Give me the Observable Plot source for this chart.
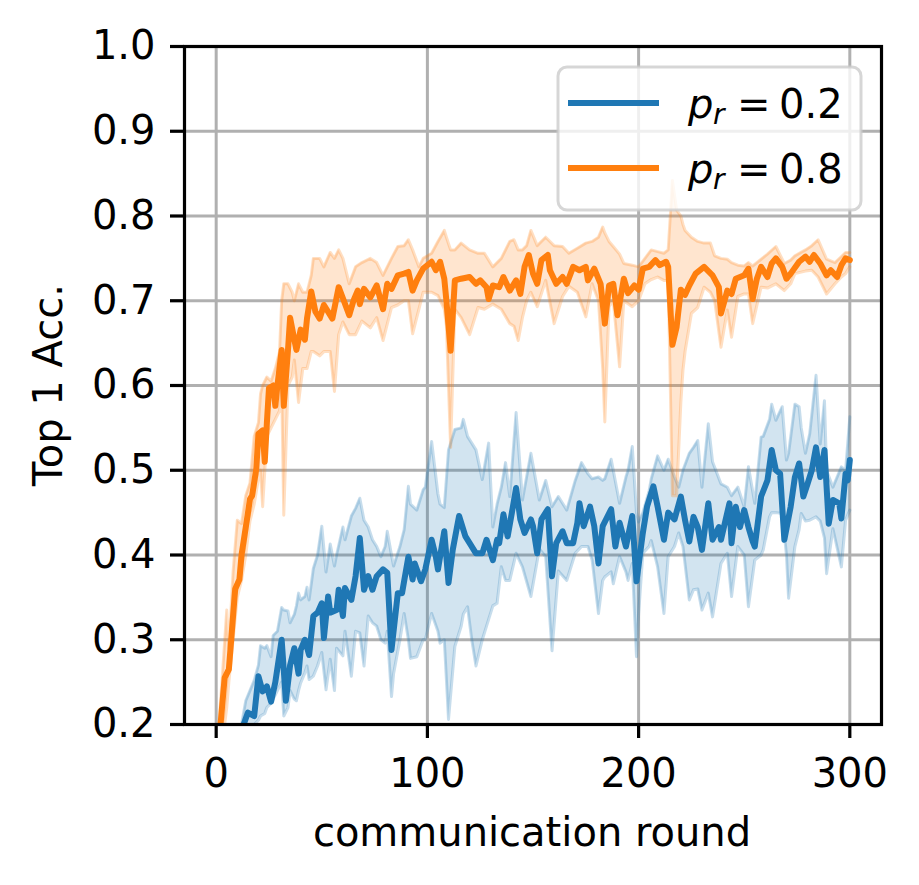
<!DOCTYPE html>
<html>
<head>
<meta charset="utf-8">
<script src="https://cdn.jsdelivr.net/npm/d3@7"></script>
<script src="https://cdn.jsdelivr.net/npm/@observablehq/plot@0.6"></script>
<style>
  body { margin: 0; background: #fff; }
  #chart { width: 919px; height: 885px; }
</style>
</head>
<body>
<div id="chart"></div>
<script>
// ---------- data ----------
const xTicks = [0, 100, 200, 300];
const yTicks = [0.2, 0.3, 0.4, 0.5, 0.6, 0.7, 0.8, 0.9, 1.0];
const seriesNames = ["0.2", "0.8"];
const seriesColors = ["#1f77b4", "#ff7f0e"];
const xLabel = "communication round";
const yLabel = "Top 1 Acc.";

// p_r = 0.8 (orange) mean curve
const orangeRounds = [1,4,6,9,11,12,15,16,17,19,20,22,23,24,25,27,28,29,31,32,34,35,37,38,40,42,43,45,47,49,51,55,58,60,63,65,67,68,70,73,76,79,81,83,86,89,91,93,95,98,102,104,106,108,109,111,113,116,120,123,125,128,129,131,134,136,139,142,144,146,148,150,152,154,157,158,161,164,166,169,172,175,176,179,182,184,186,188,190,193,195,198,200,202,205,208,210,213,214,216,218,220,222,224,227,231,235,238,239,242,244,246,250,252,254,256,258,261,263,265,268,270,272,276,279,281,283,286,289,291,294,296,298,300];
const orangeMean = [0.17,0.255,0.265,0.36,0.371,0.40,0.449,0.466,0.47,0.502,0.543,0.547,0.51,0.556,0.597,0.60,0.576,0.60,0.642,0.576,0.642,0.68,0.654,0.642,0.666,0.654,0.679,0.711,0.687,0.679,0.695,0.679,0.716,0.703,0.683,0.70,0.712,0.696,0.714,0.704,0.718,0.69,0.72,0.714,0.73,0.732,0.734,0.712,0.724,0.738,0.746,0.736,0.746,0.726,0.70,0.641,0.724,0.726,0.728,0.72,0.724,0.716,0.702,0.718,0.716,0.728,0.712,0.724,0.708,0.74,0.754,0.732,0.72,0.748,0.754,0.736,0.72,0.728,0.72,0.74,0.736,0.74,0.724,0.738,0.72,0.673,0.718,0.72,0.683,0.726,0.709,0.718,0.713,0.738,0.74,0.748,0.742,0.746,0.74,0.648,0.669,0.713,0.707,0.718,0.732,0.74,0.73,0.716,0.685,0.712,0.708,0.726,0.73,0.738,0.702,0.726,0.74,0.728,0.744,0.75,0.74,0.726,0.732,0.746,0.752,0.746,0.754,0.744,0.73,0.736,0.728,0.742,0.75,0.748];

// p_r = 0.8 (orange) spread band
const orangeBandRounds = [1,3,5,6,8,10,12,14,16,18,20,21,22,24,26,28,30,31,32,34,36,37,39,41,43,45,46,49,51,54,56,58,60,63,66,69,73,76,79,83,86,89,91,93,96,98,102,105,108,109,111,113,116,120,124,127,131,135,139,141,143,145,147,149,152,156,160,164,167,171,175,178,181,183,184,186,188,191,193,197,200,203,206,209,212,214,215,216,218,220,221,222,225,228,231,234,236,239,242,244,247,250,252,254,258,261,265,269,272,274,279,282,285,289,293,296,298,300];
const orangeLow = [0.15,0.18,0.22,0.25,0.30,0.35,0.37,0.40,0.44,0.46,0.49,0.50,0.457,0.54,0.55,0.56,0.57,0.60,0.447,0.60,0.61,0.63,0.58,0.62,0.62,0.64,0.64,0.635,0.64,0.64,0.593,0.66,0.675,0.66,0.66,0.676,0.668,0.68,0.653,0.692,0.695,0.70,0.70,0.661,0.69,0.71,0.71,0.706,0.69,0.67,0.527,0.69,0.68,0.66,0.692,0.69,0.696,0.69,0.673,0.67,0.653,0.68,0.70,0.71,0.693,0.724,0.673,0.705,0.717,0.71,0.681,0.72,0.70,0.62,0.557,0.693,0.70,0.622,0.70,0.693,0.70,0.72,0.725,0.728,0.724,0.724,0.60,0.47,0.47,0.58,0.618,0.64,0.685,0.692,0.716,0.71,0.70,0.645,0.689,0.657,0.705,0.708,0.708,0.673,0.716,0.715,0.72,0.712,0.72,0.732,0.735,0.736,0.728,0.708,0.72,0.728,0.732,0.74];
const orangeHigh = [0.19,0.26,0.335,0.29,0.38,0.441,0.437,0.47,0.485,0.54,0.556,0.59,0.60,0.61,0.605,0.62,0.64,0.70,0.72,0.72,0.71,0.70,0.72,0.71,0.71,0.73,0.75,0.75,0.74,0.757,0.75,0.76,0.75,0.72,0.74,0.745,0.75,0.745,0.73,0.75,0.764,0.765,0.772,0.76,0.74,0.75,0.756,0.77,0.783,0.775,0.76,0.76,0.768,0.76,0.756,0.756,0.74,0.75,0.77,0.772,0.76,0.76,0.765,0.783,0.765,0.775,0.765,0.764,0.756,0.762,0.768,0.77,0.775,0.787,0.78,0.77,0.764,0.755,0.744,0.742,0.74,0.75,0.76,0.758,0.756,0.76,0.80,0.842,0.807,0.80,0.79,0.783,0.775,0.77,0.768,0.768,0.753,0.75,0.749,0.745,0.742,0.741,0.745,0.741,0.749,0.755,0.764,0.744,0.748,0.753,0.76,0.765,0.772,0.749,0.745,0.752,0.757,0.757];

// p_r = 0.2 (blue) mean curve
const blueRounds = [12,13,15,18,20,22,24,26,28,31,33,35,37,39,40,42,44,46,48,50,51,53,54,57,58,60,61,64,66,68,70,72,74,76,79,81,83,86,88,91,93,94,97,99,102,104,105,108,110,112,115,118,120,123,126,128,131,133,134,136,138,140,142,144,146,149,150,152,154,157,159,161,164,166,169,171,172,174,177,179,181,183,187,189,191,194,197,199,202,204,207,209,212,214,217,220,222,224,226,228,230,233,235,238,239,243,244,246,248,250,252,254,255,258,261,263,265,267,269,272,274,276,278,280,282,284,286,288,290,292,295,296,298,299,300];
const blueMean = [0.185,0.20,0.214,0.21,0.257,0.239,0.245,0.227,0.25,0.30,0.228,0.27,0.29,0.26,0.288,0.30,0.282,0.328,0.332,0.343,0.302,0.351,0.332,0.335,0.359,0.328,0.361,0.347,0.375,0.42,0.359,0.375,0.359,0.375,0.383,0.379,0.288,0.355,0.355,0.398,0.371,0.39,0.369,0.383,0.418,0.398,0.383,0.428,0.367,0.406,0.446,0.422,0.414,0.402,0.402,0.418,0.394,0.418,0.414,0.448,0.422,0.45,0.479,0.442,0.426,0.442,0.434,0.402,0.442,0.454,0.375,0.414,0.428,0.414,0.414,0.438,0.461,0.434,0.457,0.434,0.39,0.434,0.454,0.41,0.438,0.41,0.446,0.369,0.426,0.457,0.481,0.457,0.418,0.45,0.442,0.469,0.441,0.416,0.445,0.433,0.406,0.461,0.418,0.433,0.418,0.461,0.414,0.457,0.433,0.453,0.433,0.416,0.41,0.469,0.488,0.524,0.50,0.496,0.418,0.457,0.492,0.508,0.469,0.484,0.50,0.527,0.492,0.524,0.437,0.465,0.461,0.443,0.496,0.488,0.512];

// p_r = 0.2 (blue) spread band
const blueBandRounds = [12,14,16,18,20,21,23,24,26,27,29,31,32,34,35,37,38,39,40,42,43,44,46,48,50,52,54,56,57,60,61,64,66,68,70,72,74,76,78,80,81,83,84,87,89,91,92,95,98,99,102,105,106,108,110,113,116,117,119,121,123,126,129,131,133,135,137,139,142,145,149,153,156,159,162,166,170,173,176,178,181,183,184,187,188,191,194,195,197,199,200,202,205,206,209,212,214,217,219,221,224,226,228,230,233,235,239,242,244,247,250,252,255,258,259,262,263,265,268,270,271,274,276,277,279,281,284,286,288,289,292,296,298,300];
const blueLow = [0.17,0.19,0.20,0.20,0.205,0.21,0.213,0.22,0.225,0.23,0.24,0.25,0.21,0.22,0.24,0.23,0.228,0.24,0.249,0.261,0.269,0.253,0.257,0.269,0.285,0.241,0.277,0.24,0.29,0.281,0.31,0.257,0.31,0.308,0.269,0.328,0.32,0.316,0.30,0.296,0.31,0.233,0.26,0.30,0.331,0.30,0.278,0.28,0.30,0.30,0.331,0.31,0.296,0.30,0.206,0.292,0.316,0.33,0.339,0.30,0.269,0.30,0.324,0.34,0.343,0.386,0.37,0.37,0.402,0.386,0.351,0.407,0.398,0.287,0.381,0.37,0.402,0.41,0.41,0.394,0.331,0.37,0.374,0.38,0.366,0.398,0.38,0.37,0.39,0.28,0.33,0.402,0.41,0.417,0.386,0.331,0.398,0.41,0.426,0.41,0.347,0.359,0.36,0.335,0.355,0.327,0.39,0.402,0.351,0.41,0.40,0.339,0.394,0.40,0.406,0.445,0.45,0.45,0.449,0.40,0.349,0.41,0.43,0.449,0.44,0.441,0.445,0.44,0.42,0.378,0.431,0.386,0.441,0.453];
const blueHigh = [0.20,0.228,0.24,0.252,0.27,0.293,0.29,0.293,0.28,0.305,0.31,0.338,0.335,0.334,0.32,0.33,0.34,0.355,0.347,0.351,0.362,0.347,0.384,0.40,0.434,0.38,0.413,0.387,0.40,0.433,0.418,0.446,0.455,0.467,0.441,0.433,0.418,0.41,0.398,0.41,0.428,0.40,0.387,0.41,0.43,0.481,0.46,0.453,0.477,0.48,0.534,0.472,0.46,0.456,0.524,0.548,0.55,0.56,0.54,0.532,0.524,0.489,0.532,0.433,0.46,0.48,0.509,0.469,0.568,0.465,0.52,0.465,0.488,0.457,0.469,0.453,0.488,0.509,0.496,0.49,0.492,0.488,0.49,0.513,0.50,0.461,0.492,0.50,0.528,0.45,0.439,0.45,0.476,0.49,0.517,0.50,0.513,0.492,0.48,0.50,0.52,0.527,0.535,0.48,0.555,0.51,0.484,0.48,0.47,0.48,0.457,0.504,0.461,0.539,0.54,0.56,0.578,0.559,0.575,0.512,0.52,0.578,0.575,0.55,0.52,0.543,0.612,0.531,0.582,0.50,0.48,0.504,0.50,0.563];

// ---------- tables built from the arrays ----------
const lineRows = (rounds, vals) => rounds.map((r, i) => ({round: r, acc: vals[i]}));
const bandRows = (rounds, lo, hi) => rounds.map((r, i) => ({round: r, lo: lo[i], hi: hi[i]}));
const blueLine = lineRows(blueRounds, blueMean);
const orangeLine = lineRows(orangeRounds, orangeMean);
const blueBand = bandRows(blueBandRounds, blueLow, blueHigh);
const orangeBand = bandRows(orangeBandRounds, orangeLow, orangeHigh);

const FONT = "DejaVu Sans, Liberation Sans, sans-serif";
const LW = 6;       // mean line width
const EW = 3;       // band edge width
const GRID = "#b0b0b0";

function bandMarks(band, color) {
  return [
    Plot.areaY(band, {x: "round", y1: "lo", y2: "hi", fill: color, fillOpacity: 0.2, clip: true}),
    Plot.lineY(band, {x: "round", y: "lo", stroke: color, strokeOpacity: 0.25, strokeWidth: EW, clip: true}),
    Plot.lineY(band, {x: "round", y: "hi", stroke: color, strokeOpacity: 0.25, strokeWidth: EW, clip: true})
  ];
}

const chart = Plot.plot({
  width: 919,
  height: 885,
  marginLeft: 184,
  marginRight: 38,
  marginTop: 46,
  marginBottom: 161,
  style: {fontFamily: FONT, fontSize: "40px", color: "black", background: "white", overflow: "visible"},
  x: {domain: [-15, 315]},
  y: {domain: [0.2, 1.0]},
  marks: [
    Plot.gridX(xTicks, {stroke: GRID, strokeOpacity: 1, strokeWidth: 3}),
    Plot.gridY(yTicks, {stroke: GRID, strokeOpacity: 1, strokeWidth: 3}),
    ...bandMarks(blueBand, seriesColors[0]),
    Plot.lineY(blueLine, {x: "round", y: "acc", stroke: seriesColors[0], strokeWidth: LW, clip: true}),
    ...bandMarks(orangeBand, seriesColors[1]),
    Plot.lineY(orangeLine, {x: "round", y: "acc", stroke: seriesColors[1], strokeWidth: LW, clip: true}),
    Plot.frame({stroke: "black", strokeWidth: 3.2}),
    Plot.axisX(xTicks, {tickSize: 14, tickPadding: 20, strokeWidth: 3.2, label: null, fontSize: 40}),
    Plot.axisY(yTicks, {tickSize: 14, tickPadding: 15, strokeWidth: 3.2, label: null, fontSize: 40, tickFormat: d3.format(".1f")})
  ]
});

document.getElementById("chart").appendChild(chart);

// ---------- axis titles and legend ----------
const svg = d3.select(chart);
svg.append("text")
  .attr("x", 532).attr("y", 846)
  .attr("text-anchor", "middle")
  .attr("font-family", FONT).attr("font-size", 40).attr("fill", "black")
  .text(xLabel);
svg.append("text")
  .attr("transform", "translate(62,385) rotate(-90)")
  .attr("text-anchor", "middle")
  .attr("font-family", FONT).attr("font-size", 40).attr("fill", "black")
  .text(yLabel);

const lg = svg.append("g").attr("font-family", FONT).attr("fill", "black").attr("text-anchor", "start");
lg.append("rect")
  .attr("x", 558).attr("y", 67).attr("width", 303).attr("height", 143)
  .attr("rx", 9).attr("ry", 9)
  .attr("fill", "white").attr("fill-opacity", 0.8)
  .attr("stroke", "#cccccc").attr("stroke-opacity", 0.8).attr("stroke-width", 3);
seriesNames.forEach((name, i) => {
  const yb = 118 + i * 65;
  const ym = 103 + i * 65;
  lg.append("line").attr("x1", 568).attr("x2", 659).attr("y1", ym).attr("y2", ym)
    .attr("stroke", seriesColors[i]).attr("stroke-width", LW);
  lg.append("text").attr("x", 688).attr("y", yb).attr("text-anchor", "start").attr("font-size", 40).attr("font-style", "italic").text("p");
  lg.append("text").attr("x", 713).attr("y", yb + 6).attr("text-anchor", "start").attr("font-size", 28).attr("font-style", "italic").text("r");
  lg.append("text").attr("x", 737).attr("y", yb).attr("text-anchor", "start").attr("font-size", 40).text("=");
  lg.append("text").attr("x", 779).attr("y", yb).attr("text-anchor", "start").attr("font-size", 40).text(name);
});
</script>
</body>
</html>
